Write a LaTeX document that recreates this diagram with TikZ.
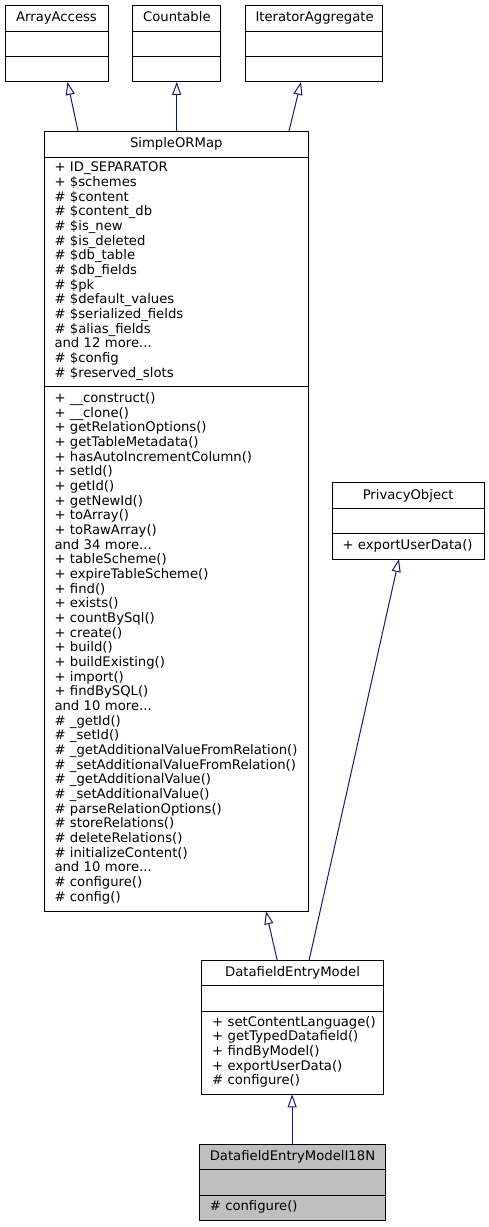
\documentclass[tikz,border=0pt]{standalone}
\usepackage{fontspec}
\setmainfont{DejaVu Sans}
\usepackage{tikz}
\usetikzlibrary{positioning}
\usetikzlibrary{arrows.meta}

\definecolor{edgeblue}{RGB}{25,25,112}
\definecolor{focusgray}{RGB}{191,191,191}

\newcommand{\members}[1]{\begin{tabular}{@{}l@{}}#1\end{tabular}}

\begin{document}
\begin{tikzpicture}[x=1pt,y=-1pt,
    every node/.style={font=\fontsize{13.2}{14.67}\selectfont},
    cls/.style={rectangle,draw=black,line width=1pt,fill=white,outer sep=0pt,
                inner xsep=10.5pt,inner ysep=0pt,minimum height=25.4pt,anchor=north},
    clsname/.style={cls,align=center,text height=10pt,text depth=3pt},
    part/.style={cls,align=left},
    inherit/.style={draw=edgeblue,line width=1pt,-{Triangle[open,length=13pt,width=9pt]}},
   ]
  \fill[white] (0,0) rectangle (489,1227);
  \useasboundingbox (0,0) rectangle (489,1227);

  \node[clsname,text width=82pt,anchor=north west] (arrayaccess) at (5,5.7) {ArrayAccess};
  \node[part,text width=82pt,below=0pt of arrayaccess] (arrayaccess-a) {};
  \node[part,text width=82pt,below=0pt of arrayaccess-a] (arrayaccess-m) {};

  \node[clsname,text width=67pt,anchor=north west] (countable) at (132.7,5.7) {Countable};
  \node[part,text width=67pt,below=0pt of countable] (countable-a) {};
  \node[part,text width=67pt,below=0pt of countable-a] (countable-m) {};

  \node[clsname,text width=116.7pt,anchor=north west] (iteratoraggregate) at (245,5.7) {IteratorAggregate};
  \node[part,text width=116.7pt,below=0pt of iteratoraggregate] (iteratoraggregate-a) {};
  \node[part,text width=116.7pt,below=0pt of iteratoraggregate-a] (iteratoraggregate-m) {};

  \node[clsname,text width=243.5pt,minimum height=26pt,anchor=north west] (simpleormap) at (44,131) {SimpleORMap};
  \node[part,text width=243.5pt,minimum height=229.3pt,below=0pt of simpleormap] (simpleormap-a) {\members{%
    + ID\_SEPARATOR\\
    + \$schemes\\
    \# \$content\\
    \# \$content\_db\\
    \# \$is\_new\\
    \# \$is\_deleted\\
    \# \$db\_table\\
    \# \$db\_fields\\
    \# \$pk\\
    \# \$default\_values\\
    \# \$serialized\_fields\\
    \# \$alias\_fields\\
    and 12 more...\\
    \# \$config\\
    \# \$reserved\_slots}};
  \node[part,text width=243.5pt,minimum height=525pt,below=0pt of simpleormap-a] (simpleormap-m) {\members{%
    + \_\_construct()\\
    + \_\_clone()\\
    + getRelationOptions()\\
    + getTableMetadata()\\
    + hasAutoIncrementColumn()\\
    + setId()\\
    + getId()\\
    + getNewId()\\
    + toArray()\\
    + toRawArray()\\
    and 34 more...\\
    + tableScheme()\\
    + expireTableScheme()\\
    + find()\\
    + exists()\\
    + countBySql()\\
    + create()\\
    + build()\\
    + buildExisting()\\
    + import()\\
    + findBySQL()\\
    and 10 more...\\
    \# \_getId()\\
    \# \_setId()\\
    \# \_getAdditionalValueFromRelation()\\
    \# \_setAdditionalValueFromRelation()\\
    \# \_getAdditionalValue()\\
    \# \_setAdditionalValue()\\
    \# parseRelationOptions()\\
    \# storeRelations()\\
    \# deleteRelations()\\
    \# initializeContent()\\
    and 10 more...\\
    \# configure()\\
    \# config()}};

  \node[clsname,text width=131.3pt,minimum height=25.6pt,anchor=north west] (privacyobject) at (332,482.7) {PrivacyObject};
  \node[part,text width=131.3pt,below=0pt of privacyobject] (privacyobject-a) {};
  \node[part,text width=131.3pt,minimum height=25.3pt,below=0pt of privacyobject-a] (privacyobject-m) {\members{+ exportUserData()}};

  \node[clsname,text width=160.7pt,minimum height=25pt,anchor=north west] (entrymodel) at (201.7,960.7) {DatafieldEntryModel};
  \node[part,text width=160.7pt,minimum height=25.3pt,below=0pt of entrymodel] (entrymodel-a) {};
  \node[part,text width=160.7pt,minimum height=83.3pt,below=0pt of entrymodel-a] (entrymodel-m) {\members{%
    + setContentLanguage()\\
    + getTypedDatafield()\\
    + findByModel()\\
    + exportUserData()\\
    \# configure()}};

  \node[clsname,fill=focusgray,text width=164.7pt,minimum height=25pt,anchor=north west] (entrymodeli18n) at (199.3,1144.3) {DatafieldEntryModelI18N};
  \node[part,fill=focusgray,text width=164.7pt,minimum height=25.7pt,below=0pt of entrymodeli18n] (entrymodeli18n-a) {};
  \node[part,fill=focusgray,text width=164.7pt,minimum height=25.7pt,below=0pt of entrymodeli18n-a] (entrymodeli18n-m) {\members{\# configure()}};

  \draw[inherit] ([xshift=34pt]simpleormap.north west) -- ([xshift=62.5pt]arrayaccess-m.south west);
  \draw[inherit] (countable-m.south |- simpleormap.north) -- (countable-m.south);
  \draw[inherit] ([xshift=245pt]simpleormap.north west) -- ([xshift=56pt]iteratoraggregate-m.south west);
  \draw[inherit] ([xshift=75.6pt]entrymodel.north west) -- ([xshift=222pt]simpleormap-m.south west);
  \draw[inherit] ([xshift=107.3pt]entrymodel.north west) -- ([xshift=67pt]privacyobject-m.south west);
  \draw[inherit] (entrymodeli18n.north) -- (entrymodeli18n.north |- entrymodel-m.south);
\end{tikzpicture}
\end{document}
